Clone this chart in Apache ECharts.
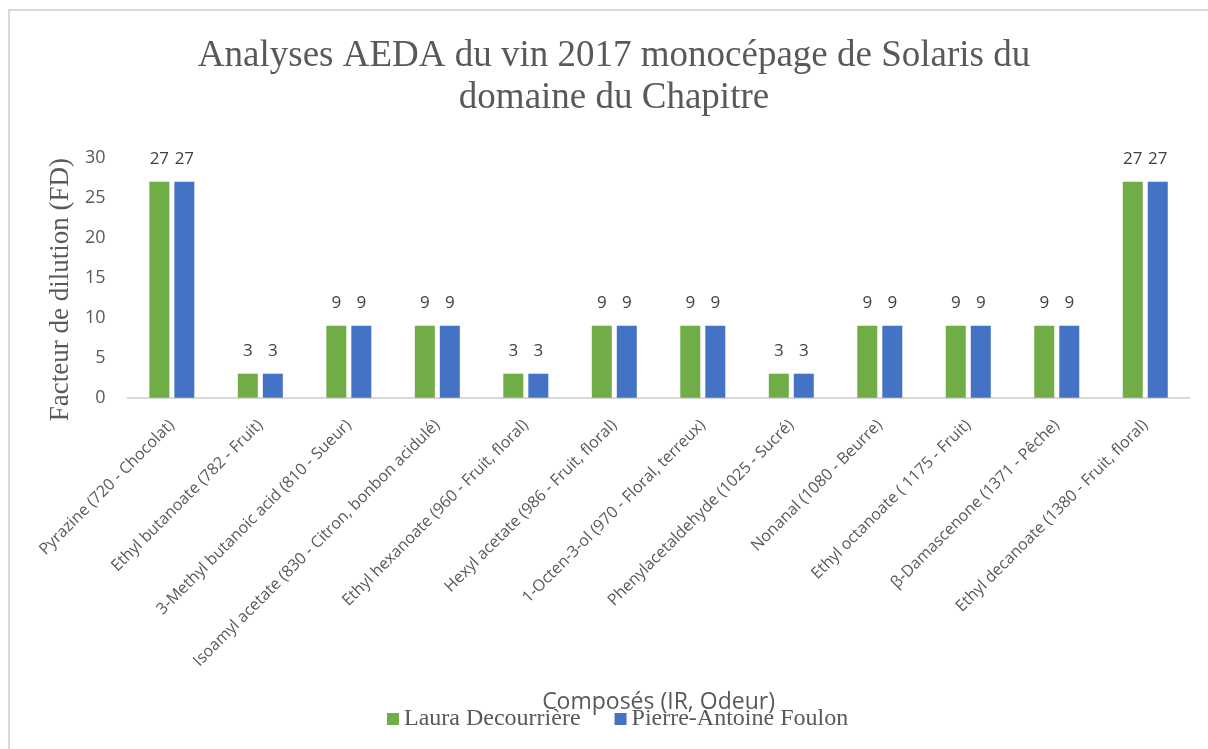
<!DOCTYPE html>
<html>
<head>
<meta charset="utf-8">
<script src="https://cdn.jsdelivr.net/npm/echarts@6/dist/echarts.min.js"></script>
<style>
  html, body { margin: 0; padding: 0; background: #fff; }
  #chart { width: 1208px; height: 749px; }
</style>
</head>
<body>
<div id="chart"></div>
<script>
const categories = [
  'Pyrazine (720 - Chocolat)',
  'Ethyl butanoate (782 - Fruit)',
  '3-Methyl butanoic acid (810 - Sueur)',
  'Isoamyl acetate (830 - Citron, bonbon acidulé)',
  'Ethyl hexanoate (960 - Fruit, floral)',
  'Hexyl acetate (986 - Fruit, floral)',
  '1-Octen-3-ol (970 - Floral, terreux)',
  'Phenylacetaldehyde (1025 - Sucré)',
  'Nonanal (1080 - Beurre)',
  'Ethyl octanoate ( 1175 - Fruit)',
  'β-Damascenone (1371 - Pêche)',
  'Ethyl decanoate (1380 - Fruit, floral)'
]
const laura = [27, 3, 9, 9, 3, 9, 9, 3, 9, 9, 9, 27]
const pierre = [27, 3, 9, 9, 3, 9, 9, 3, 9, 9, 9, 27]

const serif = '"Liberation Serif", "DejaVu Serif", serif'
const sans = '"Open Sans", "Noto Sans", sans-serif'

const chart = echarts.init(document.getElementById('chart'))

const barLabel = {
  show: true,
  position: 'top',
  distance: 14,
  fontFamily: sans,
  fontSize: 17,
  color: '#404040'
}

chart.setOption({
  animation: false,
  title: {
    text: 'Analyses AEDA du vin 2017 monocépage de Solaris du\ndomaine du Chapitre',
    left: 609,
    textAlign: 'center',
    top: 30,
    textStyle: {
      fontFamily: serif,
      fontSize: 37,
      fontWeight: 'normal',
      lineHeight: 42,
      color: '#595959'
    }
  },
  graphic: [{
    type: 'rect',
    shape: { x: 9, y: 10, width: 1400, height: 900 },
    style: { fill: 'none', stroke: '#d9d9d9', lineWidth: 2 },
    silent: true
  }],
  legend: {
    bottom: 13,
    left: 382,
    itemWidth: 12,
    itemHeight: 12,
    itemGap: 34,
    icon: 'rect',
    textStyle: { fontFamily: serif, fontSize: 24, color: '#595959' },
    data: ['Laura Decourrière', 'Pierre-Antoine Foulon']
  },
  grid: {
    left: 127.6,
    right: 18.5,
    top: 157.7,
    bottom: 351.3
  },
  xAxis: {
    type: 'category',
    data: categories,
    name: 'Composés (IR, Odeur)',
    nameLocation: 'middle',
    nameGap: 293,
    nameTextStyle: { fontFamily: sans, fontSize: 23, color: '#595959' },
    axisLine: { lineStyle: { color: '#d9d9d9', width: 2 } },
    axisTick: { show: false },
    axisLabel: {
      interval: 0,
      rotate: 45,
      margin: 25,
      fontFamily: sans,
      fontSize: 16,
      color: '#595959'
    }
  },
  yAxis: {
    type: 'value',
    min: 0,
    max: 30,
    interval: 5,
    name: 'Facteur de dilution (FD)',
    nameLocation: 'middle',
    nameGap: 52,
    nameTextStyle: { fontFamily: serif, fontSize: 27, color: '#595959', padding: [0, 24, 0, 0] },
    axisLine: { show: false },
    axisTick: { show: false },
    splitLine: { show: false },
    axisLabel: { margin: 22, fontFamily: sans, fontSize: 18, color: '#595959' }
  },
  series: [
    {
      name: 'Laura Decourrière',
      type: 'bar',
      data: laura,
      barWidth: 20,
      barGap: '25%',
      itemStyle: { color: '#70AD47' },
      label: barLabel
    },
    {
      name: 'Pierre-Antoine Foulon',
      type: 'bar',
      data: pierre,
      barWidth: 20,
      barGap: '25%',
      itemStyle: { color: '#4472C4' },
      label: barLabel
    }
  ]
})
</script>
</body>
</html>
